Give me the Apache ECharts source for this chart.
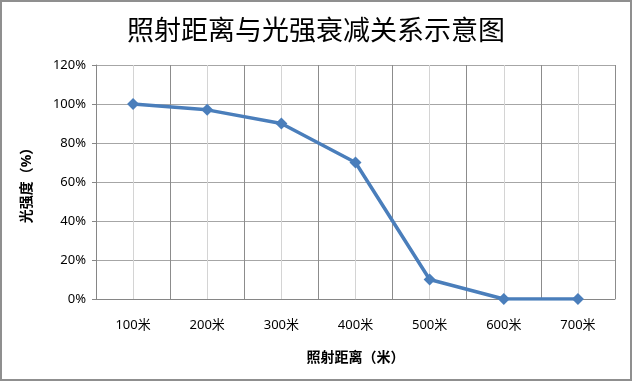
<!DOCTYPE html>
<html>
<head>
<meta charset="utf-8">
<script src="https://cdn.jsdelivr.net/npm/echarts@6/dist/echarts.min.js"></script>
<style>
html,body{margin:0;padding:0;background:#fff;}
#frame{position:absolute;left:0;top:0;width:632px;height:381px;box-sizing:border-box;border:2px solid #8f8f8f;}
#chart{position:absolute;left:0;top:0;width:632px;height:381px;}
</style>
</head>
<body>
<div id="chart"></div>
<div id="frame"></div>
<script>
var titleText = '照射距离与光强衰减关系示意图';
var xName = '照射距离（米）';
var yName = '光强度（%）';
var categories = ['100米', '200米', '300米', '400米', '500米', '600米', '700米'];
var intensity = [100, 97, 90, 70, 10, 0, 0];
var yTicks = { min: 0, max: 120, interval: 20 };

var chart = echarts.init(document.getElementById('chart'), null, { renderer: 'canvas' });
var cjk = '"Noto Sans", "Noto Sans CJK SC", sans-serif';
chart.setOption({
  animation: false,
  backgroundColor: '#fff',
  title: {
    text: titleText,
    left: 'center',
    top: 11,
    textStyle: { fontFamily: '"Noto Sans CJK SC", serif', fontSize: 27, fontWeight: 'normal', color: '#000' }
  },
  grid: { left: 96, right: 17, top: 65, bottom: 82, containLabel: false },
  xAxis: [
    {
      type: 'category',
      data: categories,
      boundaryGap: true,
      name: xName,
      nameLocation: 'middle',
      nameGap: 52,
      nameTextStyle: { fontFamily: cjk, fontSize: 14, fontWeight: 'bold', color: '#000' },
      axisLine: { lineStyle: { color: '#868686', width: 1 } },
      axisTick: { show: false },
      axisLabel: { margin: 20, fontFamily: cjk, fontSize: 13, color: '#000' },
      splitLine: { show: true, lineStyle: { color: '#8c8c8c', width: 1 } }
    },
    {
      type: 'value',
      min: 0,
      max: 14,
      interval: 1,
      position: 'bottom',
      axisLine: { show: false },
      axisTick: { show: false },
      axisLabel: { show: false },
      splitLine: { show: true, lineStyle: { color: ['#8c8c8c', '#d4d4d4'], width: 1 } }
    }
  ],
  yAxis: {
    type: 'value',
    min: yTicks.min,
    max: yTicks.max,
    interval: yTicks.interval,
    name: yName,
    nameLocation: 'middle',
    nameRotate: 90,
    nameGap: 62,
    nameTextStyle: { fontFamily: cjk, fontSize: 14, fontWeight: 'bold', color: '#000' },
    axisLine: { show: true, lineStyle: { color: '#868686', width: 1 } },
    axisTick: { show: true, length: 4, lineStyle: { color: '#868686' } },
    axisLabel: { formatter: '{value}%', margin: 10, fontFamily: cjk, fontSize: 13, color: '#000' },
    splitLine: { show: true, lineStyle: { color: '#a6a6a6', width: 1 } }
  },
  series: [{
    type: 'line',
    xAxisIndex: 0,
    data: intensity,
    symbol: 'diamond',
    symbolSize: 12,
    lineStyle: { color: '#4a7ebb', width: 3.5 },
    itemStyle: { color: '#4a7ebb' }
  }]
});
</script>
</body>
</html>
